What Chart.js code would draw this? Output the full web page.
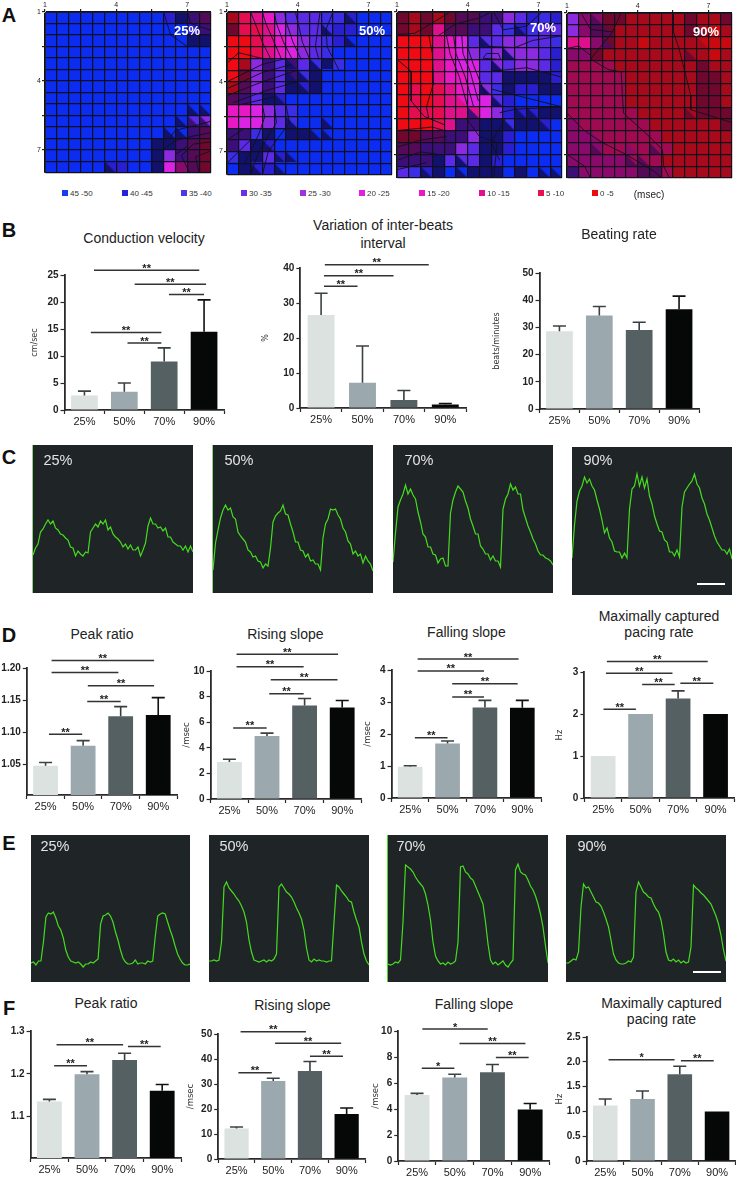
<!DOCTYPE html>
<html>
<head>
<meta charset="utf-8">
<title>Optical mapping figure</title>
<script src="https://cdn.jsdelivr.net/npm/chart.js@4"></script>
<style>
  html, body { margin: 0; padding: 0; background: #fff; }
  #page { position: relative; width: 737px; height: 1177px; overflow: hidden; font-family: "Liberation Sans", Arial, sans-serif; color: #222; }
  #page canvas { position: absolute; }
  .txt { position: absolute; transform: translate(-50%, -50%); white-space: nowrap; }
</style>
</head>
<body>
<div id="page"></div>
<script>
'use strict';

// ---- data ----
const groups = ['25%', '50%', '70%', '90%'];
const msecBins = ['45 -50', '40 -45', '35 -40', '30 -35', '25 -30', '20 -25', '15 -20', '10 -15', '5 -10', '0 -5'];

// activation maps: one level code per electrode cell, "tri" = lower left half of the cell
const map25 = [
  '00000000001abc', '0000000000001b', '000000000000aa', '00000000000000', '00000000000000', '00000000000000', '00000000000000',
  '00000000000000', '00000000000000', '00000000000034', '000000000000bc', '000000000aabcd', '000000000a4bcd', '000001100a5gcd'
];
const tri25 = [
  '..............', '..............', '..............', '..............', '..............', '..............', '..............',
  '..............', '............aa', '...........abb', '..........aabc', '..............', '..............', '.....a........'
];
const map50 = [
  'e8764333221000', 'd8875433211000', '99876543210000', '99876543200000', '9e4b3b32a20000', '9d4b3b2a000000', 'ec4b3a1a000000',
  'cb3a1000000000', '66543200000000', '65543200000000', 'bb2a0aa0000000', 'b3a10000000000', '2aa31000000000', '0a110000000000'
];
const tri50 = [
  '..........a...', '........a.....', '..........a...', '..............', '...b.a.aa.....', '...b.aa.......', '...b..aa......',
  '...aa.........', '..............', '.....a..a.....', '.......aa.....', '...a..........', '....aa........', '..a.a.........'
];
const map70 = [
  'dededccbb43121', 'ded7ccbb321233', '99976533344332', '99976543444431', '99976553434431', '999766533aaaa1', '989876542a11aa',
  '98987655310000', '988877754111aa', '99987bbaa2aa10', 'ddccbb4aa10000', 'ccbbb43aa10000', 'bbba333a100000', '321a00aaa0a000'
];
const tri70 = [
  '..............', '..........a...', '.......a......', '.......3.a....', '........a.....', '.........a....', '.......a......',
  '.....7..a.....', '......b...aaaa', '.........aaaa.', '..............', '..............', '.....a.a......', '..aa.a..a.a.aa'
];
const map90 = [
  '4ggddeeeeedeed', '4gcdeeeeeedefe', '77gdeefeeeefff', 'ggdeeeeeeeeefe', 'hhhheeeeeeedee', 'hhhhheeeeeedde', 'hhhhheeeeeedde',
  'hhhhheeeeeedde', 'hhhhhheeeeeddd', 'ghhhhhheeeeeed', 'gghhhhhheeeeee', 'ggghhhhhheeeee', 'ggggghhheeeeee', 'bgggggccheeeee'
];
const tri90 = [
  '..c...........', '...c.......d..', '...c.......e..', '..........de..', '...........d..', '............d.', '...........dd.',
  '..............', '..........d...', '..............', '..g....h......', '..c..g.c......', '.....cc.......', '......cc......'
];

// isochrones, in electrode units
const lines25 = [
  [[12.2, 14], [11.5, 12.5], [12.5, 11.5], [14, 11.3]], [[10.5, 11], [11, 10.3], [13, 9.8], [14, 9.5]],
  [[9.9, 12], [11, 11.2], [12.5, 10.8], [14, 10.5]], [[10, 0], [10.6, 2], [12, 3], [14, 3]], [[12, 0], [12.3, 1], [14, 1.6]],
  [[9, 14], [9, 11]], [[11, 14], [11, 12.4], [12, 11.7]], [[13, 14], [12.7, 12.6], [14, 12.1]]
];
const lines50 = [
  [[2, 0], [2.4, 1], [3, 2.6], [3.7, 4]], [[3, 0], [3.3, 1], [4, 2.6], [4.6, 4]], [[4, 0], [4.2, 1], [4.8, 2.6], [5.5, 4]],
  [[4.9, 0], [5, 0.8], [5.6, 2.6], [6.3, 4.1]], [[5.8, 0], [6, 0.8], [6.4, 2.6], [7, 4]], [[7.9, 0], [7.7, 1.4], [7.5, 3], [7.8, 4.1]],
  [[9, 0], [8.4, 1.5], [8.5, 3], [9.5, 5]], [[0, 6], [3, 4.5], [5, 4]], [[0, 6.6], [3, 5.2], [5.5, 4.5]], [[0, 7.2], [3, 6], [6, 5]],
  [[0.5, 7.8], [3.5, 6.7], [6, 6]], [[1, 8], [4, 7.3]], [[3, 8], [3.2, 9], [2.7, 10.5], [1.5, 13]], [[4, 8], [4.2, 9.5], [2.7, 12], [2, 14]],
  [[5, 8], [5.3, 9.5], [3.5, 12], [3, 14]], [[0, 13], [2, 11]], [[0, 11], [1.5, 10]], [[0, 4.4], [1, 3.5], [3, 4]]
];
const lines70 = [
  [[0, 4], [1.2, 5], [1.2, 7.5], [2.3, 8.8], [4, 9.5]], [[2.7, 2], [3, 3.5], [3.1, 6], [2.5, 8], [2.7, 9]], [[0, 1.9], [1.5, 1.8], [3.2, 0.8], [4.5, 0]],
  [[4.2, 2], [4.5, 3.5], [5.3, 5.5], [6, 8]], [[4.8, 2], [5, 3.5], [5.8, 5.5], [6.5, 8]], [[5.5, 2], [5.6, 3.5], [6.2, 5], [6.9, 7.5]],
  [[6, 2], [6, 3], [6.5, 4.5], [7.5, 7]], [[3.5, 2], [5, 1], [7, 0.5], [8, 0]], [[8.2, 0], [9, 1.5], [11, 1.2], [12.3, 0]],
  [[7.8, 2.9], [10, 3], [11.5, 2.4], [14, 2]], [[7.3, 3.9], [7.6, 3.5], [8.6, 3.5], [8.8, 4], [7.3, 3.9]], [[8, 5], [11, 4.7], [14, 5.5]],
  [[8, 6.5], [10, 7], [12, 7.5], [14, 8]], [[8.7, 8.5], [10, 8.2], [14, 8]], [[0, 10], [3, 9.7], [4, 10]], [[0, 11.4], [2, 10.8], [4.2, 10.5]],
  [[0, 12.5], [2, 11.8], [3.5, 12]], [[0, 13.3], [2.5, 12.7]], [[5.9, 9], [7, 10.5], [8.5, 11], [8.2, 14]], [[9.2, 9], [8, 11], [8.7, 12.5]]
];
const lines90 = [
  [[4.6, 0], [3.8, 1.7], [2, 3.9], [3.5, 4.8], [4.6, 5], [4.7, 7], [4.8, 8.5], [7, 10.5], [8.1, 11.6], [8.2, 13], [8.7, 14]],
  [[0, 3], [1, 2.8], [2, 3.6]], [[1.2, 0], [2, 1.4], [3.9, 1.6]], [[9, 0], [9, 1.5], [9.5, 3], [10, 5], [10.5, 7], [10.5, 8.2], [14, 9.3]],
  [[0, 8.5], [1.5, 10], [3, 11], [5, 12], [7.5, 13.5], [8, 14]], [[0, 12], [1.5, 13], [2, 14]]
];

// B
const velocityVals = [2.7, 3.4, 9.0, 14.5];
const velocityErr = [3.5, 5.0, 11.5, 20.4];
const velocityMarks = [[0.24, 2.88, 25.9, '**'], [1.26, 3.05, 23.3, '**'], [2.12, 3.0, 21.4, '**'], [0.16, 1.93, 14.35, '**'], [1.08, 1.93, 12.4, '**']];
const variationVals = [26.6, 7.2, 2.3, 1.0];
const variationErr = [32.8, 17.7, 5.0, 1.3];
const variationMarks = [[0.09, 2.6, 40.9, '**'], [0.07, 1.75, 37.8, '**'], [0.07, 0.88, 34.8, '**']];
const beatingVals = [28.6, 34.4, 29.0, 36.7];
const beatingErr = [30.5, 37.7, 31.9, 41.5];

// C traces
const traceC25 = [38, 45, 49, 61, 64, 69, 73, 69, 72, 65, 63, 59, 58, 55, 53, 46, 45, 37, 42, 39, 37, 41, 40, 61, 65, 69, 66, 72, 69, 73, 63, 66, 59, 56, 54, 51, 46, 49, 44, 48, 43, 43, 46, 37, 43, 50, 67, 75, 69, 69, 65, 66, 62, 65, 56, 56, 51, 49, 47, 47, 43, 47, 41, 47, 41];
const traceC50 = [23, 50, 63, 75, 83, 88, 83, 85, 76, 74, 61, 57, 54, 51, 43, 41, 36, 37, 32, 31, 25, 29, 27, 45, 71, 77, 80, 82, 88, 79, 78, 69, 61, 51, 51, 43, 42, 36, 39, 32, 33, 29, 29, 23, 55, 69, 74, 84, 83, 84, 78, 74, 65, 61, 52, 49, 39, 42, 37, 39, 30, 37, 32, 29, 22];
const traceC70 = [31, 60, 86, 93, 99, 108, 99, 104, 98, 94, 81, 71, 59, 56, 46, 46, 39, 38, 30, 34, 35, 27, 27, 80, 93, 101, 107, 104, 101, 92, 85, 74, 67, 59, 59, 47, 44, 39, 39, 33, 37, 32, 32, 26, 84, 94, 99, 109, 103, 106, 99, 99, 83, 75, 67, 61, 54, 49, 42, 38, 38, 35, 34, 32, 28];
const traceC90 = [37, 70, 94, 104, 109, 118, 112, 116, 109, 105, 95, 86, 75, 62, 67, 57, 53, 44, 43, 43, 37, 42, 37, 86, 106, 109, 121, 109, 118, 107, 116, 99, 91, 79, 71, 64, 63, 55, 53, 43, 43, 39, 45, 38, 88, 103, 107, 111, 114, 121, 111, 107, 97, 91, 81, 75, 67, 59, 53, 49, 45, 45, 41, 46, 36];

// D
const peakVals = [1.048, 1.079, 1.125, 1.127];
const peakErr = [1.053, 1.087, 1.14, 1.154];
const peakMarks = [[0.16, 2.89, 1.2118, '**'], [0.16, 1.94, 1.193, '**'], [1.125, 2.89, 1.1725, '**'], [1.11, 2.0, 1.148, '**'], [0.09, 0.975, 1.097, '**']];
const risingVals = [2.9, 4.93, 7.3, 7.15];
const risingErr = [3.1, 5.15, 7.85, 7.7];
const risingMarks = [[0.19, 2.89, 11.3, '**'], [0.19, 1.975, 10.34, '**'], [1.1, 2.875, 9.32, '**'], [1.06, 1.975, 8.23, '**'], [0.1, 0.99, 5.55, '**']];
const fallingVals = [0.98, 1.7, 2.83, 2.82];
const fallingErr = [1.01, 1.78, 3.05, 3.05];
const fallingMarks = [[0.2, 2.9, 4.34, '**'], [0.2, 1.975, 3.97, '**'], [1.125, 2.875, 3.57, '**'], [1.125, 1.975, 3.16, '**'], [0.125, 1.0, 1.88, '**']];
const pacingVals = [1, 2, 2.37, 2];
const pacingErr = [1, 2, 2.55, 2];
const pacingMarks = [[0.1, 2.79, 3.25, '**'], [0.075, 1.85, 2.97, '**'], [1.04, 1.91, 2.7, '**'], [2.06, 2.94, 2.73, '**'], [0.01, 0.875, 2.115, '**']];

// E traces
const traceE25 = [19, 20, 17, 21, 21, 40, 65, 69, 68, 70, 64, 56, 52, 44, 32, 25, 21, 20, 19, 20, 18, 15, 18, 18, 20, 19, 21, 23, 58, 66, 67, 69, 66, 60, 50, 42, 32, 24, 20, 18, 18, 19, 22, 18, 19, 19, 18, 21, 20, 21, 45, 66, 68, 69, 68, 60, 52, 45, 36, 28, 23, 19, 17, 17, 18];
const traceE50 = [21, 21, 22, 21, 22, 40, 95, 100, 94, 91, 88, 84, 81, 76, 70, 60, 42, 30, 22, 21, 20, 21, 22, 20, 22, 21, 23, 28, 95, 98, 94, 90, 88, 85, 80, 74, 69, 63, 52, 34, 22, 20, 23, 21, 22, 21, 21, 20, 21, 21, 60, 97, 95, 91, 88, 85, 81, 80, 70, 62, 55, 40, 28, 21, 17];
const traceE70 = [18, 17, 18, 20, 19, 22, 60, 117, 115, 113, 110, 105, 101, 98, 95, 88, 77, 62, 40, 26, 21, 18, 19, 17, 20, 18, 19, 21, 40, 115, 116, 110, 108, 104, 102, 96, 90, 84, 78, 60, 38, 22, 18, 20, 17, 19, 21, 17, 15, 19, 22, 112, 118, 110, 108, 107, 102, 96, 92, 86, 78, 68, 55, 36, 19];
const traceE90 = [19, 19, 21, 23, 22, 30, 75, 98, 94, 95, 90, 85, 80, 79, 76, 70, 63, 55, 42, 28, 22, 19, 18, 18, 19, 21, 20, 25, 90, 100, 95, 90, 88, 85, 84, 78, 73, 70, 62, 48, 30, 22, 21, 23, 20, 22, 19, 21, 19, 20, 35, 97, 94, 92, 89, 87, 84, 81, 78, 72, 66, 58, 47, 32, 21];

// F
const peakVals2 = [1.135, 1.199, 1.232, 1.16];
const peakErr2 = [1.14, 1.205, 1.248, 1.175];
const peakMarks2 = [[0.19, 1.96, 1.268, '**'], [2.09, 2.96, 1.264, '**'], [0.125, 1.0, 1.2186, '**']];
const risingVals2 = [12.2, 31.2, 35.2, 18];
const risingErr2 = [12.8, 32.3, 39, 20.4];
const risingMarks2 = [[0.11, 1.89, 50.9, '**'], [1.05, 2.85, 46.3, '**'], [2.0, 2.9, 41.1, '**'], [0.05, 0.96, 34.5, '**']];
const fallingVals2 = [5.07, 6.42, 6.82, 3.97];
const fallingErr2 = [5.2, 6.67, 7.42, 4.42];
const fallingMarks2 = [[0.14, 1.875, 10.15, '*'], [1.125, 2.875, 9.03, '**'], [2.09, 2.96, 7.97, '**'], [0.125, 0.99, 7.13, '*']];
const pacingVals2 = [1.12, 1.25, 1.75, 1.0];
const pacingErr2 = [1.25, 1.41, 1.91, 1.0];
const pacingMarks2 = [[0.09, 1.86, 2.04, '*'], [2.03, 2.91, 2.02, '**']];

// ---- styles ----
Chart.defaults.animation = false;
Chart.defaults.responsive = false;
Chart.defaults.font.family = '"Liberation Sans", Arial, sans-serif';
Chart.defaults.plugins.legend.display = false;
Chart.defaults.plugins.tooltip.enabled = false;

const page = document.getElementById('page');
const levelColor = {
  0: '#0c2cf2', 1: '#2a1fd0', 2: '#3b2ce6', 3: '#5a2ae6', 4: '#8c2ae0', 5: '#dc22e4', 6: '#e818c4', 7: '#e0108c', 8: '#e60c50', 9: '#f00a14',
  a: '#12126e', b: '#3c0e78', c: '#540a56', d: '#70082e', e: '#a80a1c', f: '#c80a10', g: '#8a0a6c', h: '#a00a50'
};
const binColor = ['#1a3cf0', '#2a22d8', '#4a3ae6', '#6a30e6', '#a030e0', '#e020e0', '#e818c8', '#e01090', '#e81050', '#f00a0a'];
const barColor = ['#dbe2e0', '#9ba8ae', '#556063', '#060808'];
const errColor = ['#3c4244', '#3c4244', '#363e40', '#111111'];
const traceBg = '#1f2427';
const traceGreen = '#45dc1e';

function addText(text, x, y, css) {
  const d = document.createElement('div');
  d.className = 'txt';
  d.textContent = text;
  d.style.cssText = 'left:' + x + 'px;top:' + y + 'px;' + (css || '');
  page.appendChild(d);
  return d;
}

function addCanvas(x, y, w, h) {
  const c = document.createElement('canvas');
  c.width = w;
  c.height = h;
  c.style.left = x + 'px';
  c.style.top = y + 'px';
  page.appendChild(c);
  return c;
}

// ---- A: heat maps on a scatter chart, one tile point per cell ----
const tileCache = {};
function tile(code, triCode) {
  const key = code + triCode;
  if (tileCache[key]) return tileCache[key];
  const c = document.createElement('canvas');
  c.width = 13;
  c.height = 13;
  const g = c.getContext('2d');
  g.fillStyle = levelColor[code];
  g.fillRect(0, 0, 13, 13);
  if (levelColor[triCode]) {
    g.fillStyle = levelColor[triCode];
    g.beginPath();
    g.moveTo(0, 0);
    g.lineTo(13, 13);
    g.lineTo(0, 13);
    g.fill();
  }
  tileCache[key] = c;
  return c;
}

function heatMap(box, rows, tris, lines, showY) {
  const [l, t, r, b] = box;
  const cx = l - 12, cy = t - 12;
  const canvas = addCanvas(cx, cy, r - cx + 2, b - cy + 2);
  const cells = [], styles = [];
  rows.forEach((row, j) => {
    for (let i = 0; i < 14; i++) {
      cells.push({ x: i + 0.5, y: j + 0.5 });
      styles.push(tile(row[i], tris[j][i]));
    }
  });
  const datasets = lines.map(pts => ({
    data: pts.map(p => ({ x: p[0], y: p[1] })),
    showLine: true, pointRadius: 0, borderColor: '#12101a', borderWidth: 0.9
  }));
  datasets.push({ data: cells, pointStyle: ctx => styles[ctx.dataIndex], pointRadius: 6 });
  const axisLabel = v => (v === 0 ? '1' : v === 6 ? '4' : v === 12 ? '7' : '');
  const gridOpts = {
    z: 1, color: '#10101c', lineWidth: 1.2, tickLength: 3,
    tickColor: c => (c.tick && c.tick.value % 3 === 0 ? '#222' : 'rgba(0,0,0,0)')
  };
  new Chart(canvas, {
    type: 'scatter',
    data: { datasets: datasets },
    options: {
      layout: { padding: { right: 2, bottom: 2 }, autoPadding: false },
      scales: {
        x: {
          type: 'linear', position: 'top', min: 0, max: 14, grid: gridOpts,
          border: { color: '#222', z: 1 },
          afterFit: s => { s.height = t - cy; },
          ticks: { stepSize: 1, autoSkip: false, maxRotation: 0, padding: 0, color: '#222', font: { size: 7 }, callback: axisLabel }
        },
        y: {
          type: 'linear', reverse: true, min: 0, max: 14, grid: gridOpts,
          border: { color: '#222', z: 1 },
          afterFit: s => { s.width = l - cx; },
          ticks: { stepSize: 1, autoSkip: false, padding: 1, color: '#222', font: { size: 7 }, display: showY, callback: axisLabel }
        }
      }
    }
  });
}

heatMap([45, 12, 211, 176], map25, tri25, lines25, true);
heatMap([227, 12, 392, 178], map50, tri50, lines50, true);
heatMap([397, 12, 562, 178], map70, tri70, lines70, false);
heatMap([567, 13, 732, 178], map90, tri90, lines90, false);

const pctCss = 'color:#fff;font-weight:bold;font-size:13px;';
addText('25%', 187, 30, pctCss);
addText('50%', 372, 30, pctCss);
addText('70%', 543, 27, pctCss);
addText('90%', 706, 31, pctCss);

const binX = [62, 122, 181, 241, 300, 359, 419, 479, 538, 592];
msecBins.forEach((bin, i) => {
  const s = document.createElement('div');
  s.style.cssText = 'position:absolute;width:6px;height:6px;top:190px;left:' + binX[i] + 'px;background:' + binColor[i];
  page.appendChild(s);
  addText(bin, binX[i] + 8, 193, 'font-size:8px;color:#333;transform:translate(0,-50%);');
});
addText('(msec)', 649, 194, 'font-size:10px;color:#222;');

// ---- bar panels ----
function barPanel(cfg) {
  const [left, top, right, bottom] = cfg.box;
  const cx = cfg.titleX - 5;
  const cy = top - 46;
  const canvas = addCanvas(cx, cy, Math.min(right + 3, 737) - cx, bottom + 24 - cy);

  // error whiskers and significance brackets, all through the chart scales
  const marks = {
    id: 'marks',
    afterDatasetsDraw(chart) {
      const g = chart.ctx, xs = chart.scales.x, ys = chart.scales.y;
      g.save();
      cfg.err.forEach((top, i) => {
        if (top <= cfg.vals[i]) return;
        const x = xs.getPixelForValue(i), y0 = ys.getPixelForValue(cfg.vals[i]), y1 = ys.getPixelForValue(top);
        g.strokeStyle = errColor[i];
        g.lineWidth = 1.6;
        g.beginPath();
        g.moveTo(x, y0);
        g.lineTo(x, y1);
        g.moveTo(x - 6.5, y1);
        g.lineTo(x + 6.5, y1);
        g.stroke();
      });
      g.font = 'bold 11px "Liberation Sans", Arial, sans-serif';
      g.textAlign = 'center';
      (cfg.marks || []).forEach(m => {
        const x0 = xs.getPixelForValue(m[0]), x1 = xs.getPixelForValue(m[1]), y = ys.getPixelForValue(m[2]);
        g.strokeStyle = '#333';
        g.lineWidth = 1.5;
        g.beginPath();
        g.moveTo(x0, y);
        g.lineTo(x1, y);
        g.stroke();
        g.fillStyle = '#222';
        g.fillText(m[3], (x0 + x1) / 2, y + 1.5);
      });
      g.restore();
    }
  };

  new Chart(canvas, {
    type: 'bar',
    plugins: [marks],
    data: {
      labels: groups,
      datasets: [{ data: cfg.vals, backgroundColor: barColor, barPercentage: cfg.barPct || 0.67, categoryPercentage: 1 }]
    },
    options: {
      layout: { padding: { top: top - cy, right: Math.min(right + 3, 737) - right, bottom: 2 }, autoPadding: false },
      scales: {
        x: {
          border: { color: '#2a2a2a', width: 1.8 },
          grid: { drawOnChartArea: false, tickLength: 4, tickColor: '#2a2a2a', tickWidth: 1.2 },
          afterFit: s => { s.height = 22; },
          ticks: { color: '#222', padding: 1, maxRotation: 0, font: { size: 11 } }
        },
        y: {
          min: cfg.min, max: cfg.max,
          border: { color: '#2a2a2a', width: 1.8 },
          grid: { drawOnChartArea: false, tickLength: 4, tickColor: '#2a2a2a', tickWidth: 1.2 },
          afterFit: s => { s.width = left - cx; },
          afterBuildTicks: s => { s.ticks = cfg.ticks.map(v => ({ value: v })); },
          title: { display: true, text: cfg.yTitle, padding: 0, color: '#333', font: { family: '"DejaVu Sans"', size: cfg.titleSize || 8 } },
          ticks: {
            color: '#222', padding: 2, font: { size: 10, weight: 'bold' },
            callback: v => (v === 0 ? '0' : v.toFixed(cfg.digits || 0))
          }
        }
      }
    }
  });
}

const titleCss = 'font-size:14px;color:#222;';
const letterCss = 'font-size:20px;font-weight:bold;color:#111;';
addText('A', 9, 15, letterCss);
addText('B', 9, 230, letterCss);
addText('C', 9, 457, letterCss);
addText('D', 9, 635, letterCss);
addText('E', 9, 843, letterCss);
addText('F', 9, 1008, letterCss);

addText('Conduction velocity', 144, 238, titleCss);
addText('Variation of inter-beats', 383, 225, titleCss);
addText('interval', 383, 243, titleCss);
addText('Beating rate', 619, 234, titleCss);
barPanel({ box: [64.5, 275, 224.5, 410.3], min: 0, max: 25, ticks: [0, 5, 10, 15, 20, 25], vals: velocityVals, err: velocityErr, marks: velocityMarks, yTitle: 'cm/sec', titleX: 35 });
barPanel({ box: [300, 268.3, 466, 409], min: 0, max: 40, ticks: [0, 10, 20, 30, 40], vals: variationVals, err: variationErr, marks: variationMarks, yTitle: '%', titleX: 265.6, barPct: 0.65 });
barPanel({ box: [539.5, 272.7, 699.5, 409], min: 0, max: 50, ticks: [0, 10, 20, 30, 40, 50], vals: beatingVals, err: beatingErr, yTitle: 'beats/minutes', titleX: 497 });

addText('Peak ratio', 102, 634, titleCss);
addText('Rising slope', 285.4, 634, titleCss);
addText('Falling slope', 466.4, 631.7, titleCss);
addText('Maximally captured', 659, 616, titleCss);
addText('pacing rate', 659, 631.7, titleCss);
barPanel({ box: [26.8, 668.3, 177.2, 795.7], min: 1.0025, max: 1.2, ticks: [1.05, 1.1, 1.15, 1.2], digits: 2, vals: peakVals, err: peakErr, marks: peakMarks, yTitle: '', titleX: 5, barPct: 0.66 });
barPanel({ box: [210.2, 670.7, 360.6, 798.7], min: 0, max: 10, ticks: [0, 2, 4, 6, 8, 10], vals: risingVals, err: risingErr, marks: risingMarks, yTitle: '/msec', titleX: 186.6, titleSize: 8.5, barPct: 0.66 });
barPanel({ box: [391.2, 670, 541.6, 798.3], min: 0, max: 4, ticks: [0, 1, 2, 3, 4], vals: fallingVals, err: fallingErr, marks: fallingMarks, yTitle: '/msec', titleX: 367.7, titleSize: 8.5, barPct: 0.66 });
barPanel({ box: [583.9, 672, 734.3, 798.7], min: 0, max: 3, ticks: [0, 1, 2, 3], vals: pacingVals, err: pacingErr, marks: pacingMarks, yTitle: 'Hz', titleX: 559.5, titleSize: 8.5, barPct: 0.66 });

addText('Peak ratio', 106, 1002.7, titleCss);
addText('Rising slope', 292.4, 1005, titleCss);
addText('Falling slope', 474, 1004, titleCss);
addText('Maximally captured', 661.5, 1003.3, titleCss);
addText('pacing rate', 661.5, 1019, titleCss);
barPanel({ box: [30.6, 1030.7, 181, 1158.3], min: 1.003, max: 1.3, ticks: [1.1, 1.2, 1.3], digits: 1, vals: peakVals2, err: peakErr2, marks: peakMarks2, yTitle: '', titleX: 5, barPct: 0.66 });
barPanel({ box: [218.5, 1034.3, 366, 1160], min: 0, max: 50, ticks: [0, 10, 20, 30, 40, 50], vals: risingVals2, err: risingErr2, marks: risingMarks2, yTitle: '/msec', titleX: 191.3, titleSize: 8.5, barPct: 0.66 });
barPanel({ box: [398.2, 1030.7, 549, 1160.7], min: 0, max: 10, ticks: [0, 2, 4, 6, 8, 10], vals: fallingVals2, err: fallingErr2, marks: fallingMarks2, yTitle: '/msec', titleX: 376, titleSize: 8.5, barPct: 0.66 });
barPanel({ box: [587, 1037.3, 736.7, 1161.7], min: 0, max: 2.5, ticks: [0, 0.5, 1, 1.5, 2, 2.5], digits: 1, vals: pacingVals2, err: pacingErr2, marks: pacingMarks2, yTitle: 'Hz', titleX: 560.4, titleSize: 8.5, barPct: 0.66 });

// ---- C and E: green traces ----
function tracePanel(box, values, label, labelX, labelY, edgeColor) {
  const [l, t, r, b] = box;
  const canvas = addCanvas(l, t, r - l, b - t);
  canvas.style.background = traceBg;
  if (edgeColor) canvas.style.boxShadow = '-1px 0 0 ' + edgeColor;
  new Chart(canvas, {
    type: 'line',
    data: {
      labels: values.map((v, i) => i),
      datasets: [{ data: values, borderColor: traceGreen, borderWidth: 1.2, pointRadius: 0, tension: 0 }]
    },
    options: {
      layout: { padding: 0, autoPadding: false },
      scales: {
        x: { display: false },
        y: { display: false, min: 0, max: b - t }
      }
    }
  });
  addText(label, labelX, labelY, 'color:#e4e4e4;font-size:14.5px;');
}

tracePanel([33, 445, 193, 593], traceC25, groups[0], 58, 460, '#8fd080');
tracePanel([213, 445, 373, 593], traceC50, groups[1], 239, 460, '#8fd080');
tracePanel([393, 445, 553, 593], traceC70, groups[2], 419, 460);
tracePanel([572, 447, 732, 595], traceC90, groups[3], 598, 460);
tracePanel([31, 835, 190, 982], traceE25, groups[0], 55, 846);
tracePanel([209, 835, 369, 982], traceE50, groups[1], 234, 846);
tracePanel([388, 835, 548, 982], traceE70, groups[2], 411, 846, traceGreen);
tracePanel([566, 835, 726, 982], traceE90, groups[3], 592, 846);

// scale bars
[[697, 583, 28], [693, 971, 28]].forEach(s => {
  const d = document.createElement('div');
  d.style.cssText = 'position:absolute;height:2px;background:#fff;left:' + s[0] + 'px;top:' + s[1] + 'px;width:' + s[2] + 'px';
  page.appendChild(d);
});
</script>
</body>
</html>
